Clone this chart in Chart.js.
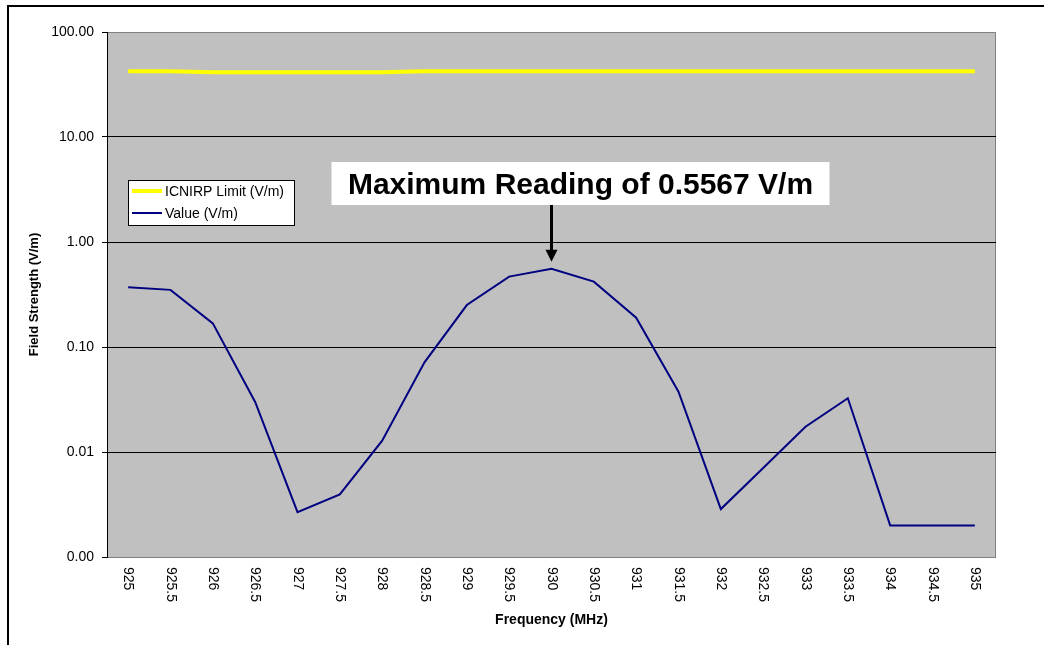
<!DOCTYPE html>
<html lang="en">
<head>
    <meta charset="UTF-8">
    <title>Field Strength vs Frequency</title>
    <style>
        body {
            margin: 0;
            padding: 0;
            background: #fff;
            font-family: "Liberation Sans", Arial, sans-serif;
        }
        .wrap {
            position: relative;
            width: 1044px;
            height: 645px;
            overflow: hidden;
        }
        /* cropped frame of the original sheet */
        .frame {
            position: absolute;
            left: 7px;
            top: 5px;
            width: 1100px;
            height: 700px;
            border-left: 2px solid #000;
            border-top: 2px solid #000;
            pointer-events: none;
        }
    </style>
</head>
<body>
    <div class="wrap">
        <canvas id="chart" width="1044" height="645"></canvas>
        <div class="frame"></div>
    </div>

    <script src="https://cdn.jsdelivr.net/npm/chart.js"></script>
    <script>
        // Chart data
        const frequencies = ['925', '925.5', '926', '926.5', '927', '927.5', '928', '928.5', '929', '929.5', '930',
            '930.5', '931', '931.5', '932', '932.5', '933', '933.5', '934', '934.5', '935'];
        const icnirpLimit = [42.2, 42.2, 41.4, 41.4, 41.4, 41.4, 41.4, 42.2, 42.2, 42.2, 42.2,
            42.2, 42.2, 42.2, 42.2, 42.2, 42.2, 42.2, 42.2, 42.2, 42.2];
        const fieldValues = [0.37, 0.35, 0.168, 0.030, 0.00267, 0.00395, 0.0128, 0.0715, 0.251, 0.468, 0.5567,
            0.419, 0.19, 0.0375, 0.00286, 0.00705, 0.0174, 0.0325, 0.002, 0.002, 0.002];
        const yTicks = [0.001, 0.01, 0.1, 1, 10, 100];
        const annotationText = 'Maximum Reading of 0.5567 V/m';

        const FONT = '"Liberation Sans", Arial, sans-serif';

        // gray plot background + border
        const plotArea = {
            id: 'plotArea',
            beforeDraw(chart) {
                const { ctx, chartArea: a } = chart;
                ctx.save();
                ctx.fillStyle = '#c0c0c0';
                ctx.fillRect(a.left, a.top, a.right - a.left, a.bottom - a.top);
                ctx.strokeStyle = '#808080';
                ctx.lineWidth = 1;
                ctx.strokeRect(a.left + 0.5, a.top + 0.5, a.right - a.left - 1, a.bottom - a.top);
                ctx.restore();
            }
        };

        // rotated x labels, legend box and the max reading callout
        const extras = {
            id: 'extras',
            afterDraw(chart) {
                const { ctx, chartArea: a } = chart;
                const xs = chart.scales.x;
                const ys = chart.scales.y;
                ctx.save();

                // x tick labels, read top to bottom
                ctx.font = '14px ' + FONT;
                ctx.fillStyle = '#000';
                ctx.textAlign = 'left';
                ctx.textBaseline = 'middle';
                frequencies.forEach((f, i) => {
                    const x = xs.getPixelForValue(i);
                    ctx.save();
                    ctx.translate(x, a.bottom + 10);
                    ctx.rotate(Math.PI / 2);
                    ctx.fillText(f, 0, 0);
                    ctx.restore();
                });

                // legend
                const lx = a.left + 21, ly = a.top + 148;
                ctx.fillStyle = '#fff';
                ctx.fillRect(lx, ly, 167, 46);
                ctx.strokeStyle = '#000';
                ctx.lineWidth = 1;
                ctx.strokeRect(lx + 0.5, ly + 0.5, 166, 45);
                chart.data.datasets.forEach((ds, i) => {
                    const yy = ly + 11 + i * 22;
                    ctx.strokeStyle = ds.borderColor;
                    ctx.lineWidth = ds.borderWidth;
                    ctx.beginPath();
                    ctx.moveTo(lx + 4, yy);
                    ctx.lineTo(lx + 34, yy);
                    ctx.stroke();
                    ctx.fillStyle = '#000';
                    ctx.font = '14px ' + FONT;
                    ctx.textBaseline = 'middle';
                    ctx.fillText(ds.label, lx + 37, yy + 1);
                });

                // callout for maximum reading
                const maxIdx = fieldValues.indexOf(Math.max(...fieldValues));
                const ax = xs.getPixelForValue(maxIdx);
                const tipY = ys.getPixelForValue(fieldValues[maxIdx]) - 7;
                ctx.font = 'bold 30px ' + FONT;
                const bx = ax - 220, by = a.top + 130, bw = 498, bh = 43;
                ctx.fillStyle = '#fff';
                ctx.fillRect(bx, by, bw, bh);
                ctx.fillStyle = '#000';
                ctx.textAlign = 'center';
                ctx.textBaseline = 'alphabetic';
                ctx.fillText(annotationText, bx + bw / 2, by + 32, bw - 8);

                ctx.strokeStyle = '#000';
                ctx.lineWidth = 3;
                ctx.beginPath();
                ctx.moveTo(ax, by + bh);
                ctx.lineTo(ax, tipY - 11);
                ctx.stroke();
                ctx.beginPath();
                ctx.moveTo(ax - 6, tipY - 12);
                ctx.lineTo(ax + 6, tipY - 12);
                ctx.lineTo(ax, tipY);
                ctx.closePath();
                ctx.fillStyle = '#000';
                ctx.fill();

                ctx.restore();
            }
        };

        new Chart(document.getElementById('chart'), {
            type: 'line',
            data: {
                labels: frequencies,
                datasets: [{
                    label: 'ICNIRP Limit (V/m)',
                    data: icnirpLimit,
                    borderColor: '#ffff00',
                    borderWidth: 4,
                    pointRadius: 0,
                    tension: 0
                }, {
                    label: 'Value (V/m)',
                    data: fieldValues,
                    borderColor: '#000080',
                    borderWidth: 2,
                    pointRadius: 0,
                    tension: 0
                }]
            },
            options: {
                responsive: false,
                animation: false,
                layout: { padding: { top: 32, right: 48, left: 0, bottom: 0 } },
                plugins: {
                    legend: { display: false },
                    tooltip: { enabled: false }
                },
                scales: {
                    x: {
                        type: 'category',
                        offset: true,
                        grid: { display: false },
                        border: { display: false },
                        ticks: { display: false },
                        title: {
                            display: true,
                            text: 'Frequency (MHz)',
                            color: '#000',
                            font: { family: FONT, size: 14, weight: 'bold' },
                            padding: { top: 0, bottom: 16 }
                        },
                        afterFit(s) { s.height = 88; }
                    },
                    y: {
                        type: 'logarithmic',
                        min: 0.001,
                        max: 100,
                        afterBuildTicks(s) { s.ticks = yTicks.map(v => ({ value: v })); },
                        grid: {
                            color: c => (c.tick && (c.tick.value === 100 || c.tick.value === 0.001)) ? 'rgba(0,0,0,0)' : '#000',
                            tickColor: '#000',
                            tickLength: 5,
                            lineWidth: 1
                        },
                        border: { color: '#000', width: 1 },
                        ticks: {
                            color: '#000',
                            font: { family: FONT, size: 14 },
                            padding: 8,
                            callback: v => Number(v).toFixed(2)
                        },
                        title: {
                            display: true,
                            text: 'Field Strength (V/m)',
                            color: '#000',
                            font: { family: FONT, size: 13, weight: 'bold' },
                            padding: { top: 27, bottom: 0 }
                        },
                        afterFit(s) { s.width = 107; }
                    }
                }
            },
            plugins: [plotArea, extras]
        });
    </script>
</body>
</html>
